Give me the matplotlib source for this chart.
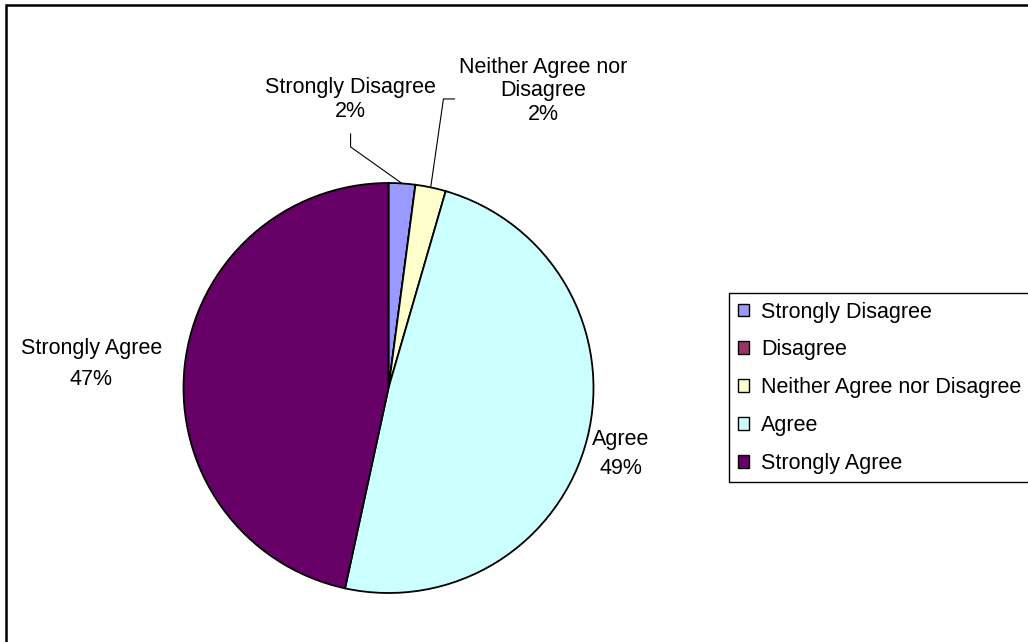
import matplotlib
matplotlib.use("Agg")
import matplotlib.pyplot as plt
from matplotlib.patches import Patch, Rectangle
import numpy as np

plt.rcParams['font.family'] = ['Liberation Sans', 'DejaVu Sans']

categories = ['Strongly Disagree', 'Disagree', 'Neither Agree nor Disagree', 'Agree', 'Strongly Agree']
values = [2.1, 0.0, 2.4, 48.9, 46.6]
colors = ['#9999FF', '#993366', '#FFFFCC', '#CCFFFF', '#660066']

fs = 15.5
fig = plt.figure(figsize=(10.28, 6.42), dpi=100)

# outer chart border (clipped at right/bottom like the original)
fig.patches.append(Rectangle((6 / 1028, -0.05), 1.1, (642 - 5) / 642 + 0.05,
                             transform=fig.transFigure, fill=False,
                             edgecolor='black', linewidth=1.8))

cx, cy, r = 388.5, 388, 205
ax = fig.add_axes([(cx - r) / 1028, (642 - cy - r) / 642, 2 * r / 1028, 2 * r / 642])
wedges, _ = ax.pie(values, colors=colors, startangle=90, counterclock=False,
                   radius=1, wedgeprops=dict(edgecolor='black', linewidth=1.3))
ax.set_xlim(-1, 1)
ax.set_ylim(-1, 1)
ax.set_aspect('equal')
ax.axis('off')

total = sum(values)
pct = [v / total * 100 for v in values]

def edge_point(w):
    a = np.deg2rad((w.theta1 + w.theta2) / 2)
    return np.cos(a), np.sin(a)

# labels
lab = {
    0: dict(xy=(-0.185, 1.407), text='Strongly Disagree\n%d%%', ls=1.15),
    2: dict(xy=(0.756, 1.449), text='Neither Agree nor\nDisagree\n%d%%', ls=1.15),
    3: dict(xy=(1.132, -0.322), text='Agree\n%d%%', ls=1.45),
    4: dict(xy=(-1.449, 0.117), text='Strongly Agree\n%d%%', ls=1.65),
}
for i, d in lab.items():
    ax.text(d['xy'][0], d['xy'][1], d['text'] % round(pct[i]), ha='center', va='center',
            fontsize=fs, linespacing=d['ls'], clip_on=False)

# leader lines
ex, ey = edge_point(wedges[0])
ax.plot([-0.185, -0.185, ex], [1.239, 1.176, ey], color='black', lw=0.8, clip_on=False)
ex, ey = edge_point(wedges[2])
ax.plot([0.322, 0.268, ex], [1.41, 1.41, ey], color='black', lw=0.8, clip_on=False)

handles = [Patch(facecolor=c, edgecolor='black', linewidth=1.0) for c in colors]
leg = fig.legend(handles, categories, loc='upper left',
                 bbox_to_anchor=(729 / 1028, (642 - 293) / 642),
                 fontsize=fs, frameon=True, fancybox=False, framealpha=1,
                 edgecolor='black', borderaxespad=0, handlelength=0.55,
                 handleheight=0.55, handletextpad=0.55, labelspacing=0.78,
                 borderpad=0.4)
leg.get_frame().set_linewidth(1.0)

# stretch the legend box past the right edge, as in the original
fig.canvas.draw()
frame = leg.get_frame()
frame.set_width(frame.get_width() + 40)

fig.savefig('out.png', dpi=100)
